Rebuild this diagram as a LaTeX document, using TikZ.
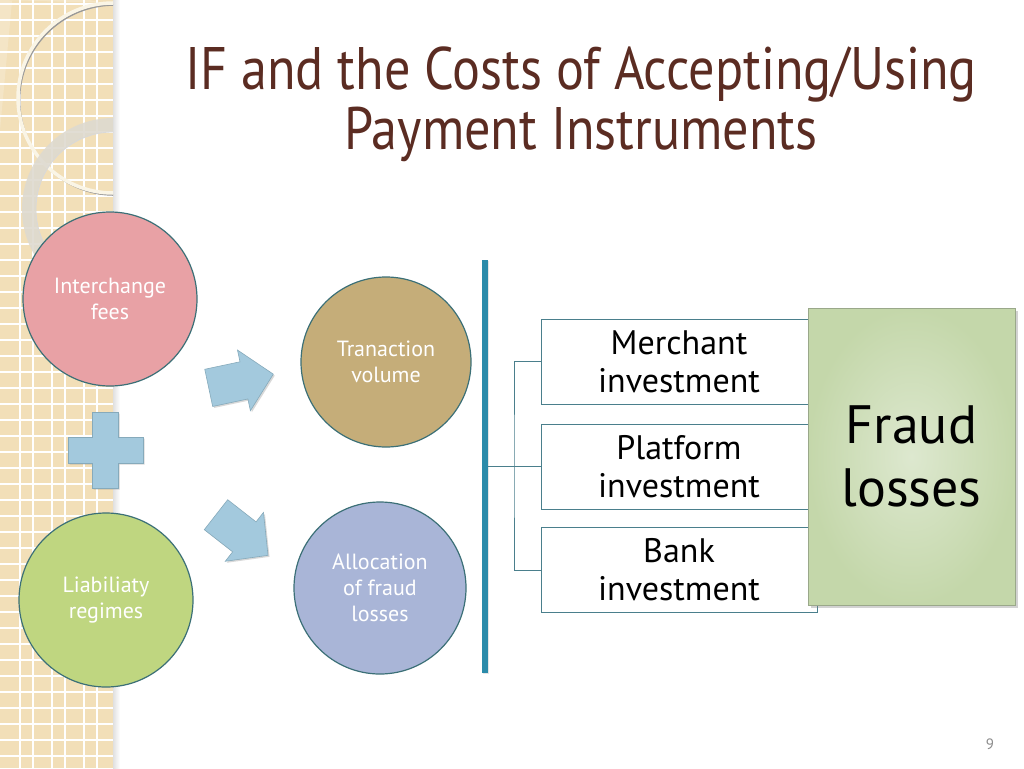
\documentclass[tikz,border=0pt]{standalone}
\usepackage{fontspec}
\setmainfont{PT Sans}
\newfontfamily\titlefont[FakeStretch=0.87]{PT Sans}
\usetikzlibrary{shadows,calc}
\definecolor{stripc}{HTML}{F2DFB8}
\definecolor{ringa}{HTML}{FAF5E6}
\definecolor{ringb}{HTML}{DEDAD0}
\definecolor{titlec}{HTML}{5B2C22}
\definecolor{edgec}{HTML}{3C7077}
\definecolor{pinkc}{HTML}{E8A1A5}
\definecolor{greenc}{HTML}{BFD680}
\definecolor{tanc}{HTML}{C5AD79}
\definecolor{lavc}{HTML}{A9B5D7}
\definecolor{bluec}{HTML}{A3C9DD}
\definecolor{blueedge}{HTML}{86AABB}
\definecolor{barc}{HTML}{2B8BAA}
\definecolor{treec}{HTML}{4A7F8C}
\definecolor{fraudin}{HTML}{DDE8CF}
\definecolor{fraudout}{HTML}{C4D7AA}
\definecolor{fraudedge}{HTML}{9AA88A}
\definecolor{pagec}{HTML}{8C8C8C}
\tikzset{
  bubble/.style={circle, draw=edgec, line width=1.2pt, minimum size=174pt, inner sep=0pt,
    text=white, align=center, font=\fontsize{22}{26}\selectfont},
  invbox/.style={rectangle, draw=treec, line width=1pt, fill=white, minimum width=276pt,
    minimum height=85pt, inner sep=0pt, align=center, font=\fontsize{34}{38}\selectfont},
  tree/.style={draw=treec, line width=1pt},
  titletext/.style={text=titlec, font=\titlefont\fontsize{60}{60}\selectfont, inner sep=0pt, anchor=base},
  blockshape/.style={fill=bluec, draw=blueedge, line width=0.6pt,
    drop shadow={opacity=0.3, shadow xshift=1.5pt, shadow yshift=-1.5pt}},
}
\begin{document}
\begin{tikzpicture}[x=1pt,y=-1pt]
\useasboundingbox (0,0) rectangle (1024,768);
\fill[white] (0,0) rectangle (1024,768);
% left decorative strip
\shade[left color=black!12, right color=white] (113,0) rectangle (120,768);
\begin{scope}
  \clip (0,0) rectangle (113,768);
  \fill[stripc] (0,0) rectangle (113,768);
  \foreach \k in {0,...,3} {
    \draw[white, line width=1.1pt] ({32*\k+20},0) -- ++(0,768);
    \draw[white, line width=1.1pt] ({32*\k+33},0) -- ++(0,768);
  }
  \foreach \k in {0,...,48} {
    \draw[white, line width=1.1pt] (0,{16*\k+4}) -- ++(113,0);
  }
  \fill[white, opacity=0.2] (113,3) arc[start angle=90, end angle=200, radius=95] -- (0,130) -- (0,0) -- cycle;
  \draw[black!40, line width=1.6pt] (114.5,100) circle (95);
  \draw[ringa, line width=3.5pt] (113,98) circle (95);
  \draw[ringb, opacity=0.9, line width=14pt] (113,209) circle (84);
  \draw[black!15, line width=0.8pt] (113,209) circle (77);
\end{scope}
% title
\node[titletext] (title1) at (581,89) {IF and the Costs of Accepting/Using};
\node[titletext] (title2) at (581,149) {Payment Instruments};
% circles
\node[bubble, fill=pinkc] (ifee) at (110,299) {Interchange\\fees};
\node[bubble, fill=greenc] (liab) at (106,600) {Liabiliaty\\regimes};
\node[bubble, fill=tanc, minimum size=170pt] (vol) at (386,362) {Tranaction\\volume};
\node[bubble, fill=lavc, minimum size=172pt] (alloc) at (380,588) {Allocation\\of fraud\\losses};
% plus sign
\path[blockshape] (92,412) -- (118,412) -- (118,437) -- (143,437) -- (143,463) -- (118,463)
  -- (118,488) -- (92,488) -- (92,463) -- (68,463) -- (68,437) -- (92,437) -- cycle;
% block arrows
\begin{scope}[shift={(241,381)}, rotate=12]
  \path[blockshape] (-33,-19) -- (3,-19) -- (3,-31) -- (33,0) -- (3,31) -- (3,19) -- (-33,19) -- cycle;
\end{scope}
\begin{scope}[shift={(242,535)}, rotate=-38]
  \path[blockshape] (-33,-19) -- (3,-19) -- (3,-31) -- (33,0) -- (3,31) -- (3,19) -- (-33,19) -- cycle;
\end{scope}
% vertical bar
\node[rectangle, fill=barc, minimum width=6pt, minimum height=413pt, inner sep=0pt,
  drop shadow={opacity=0.2, shadow xshift=1pt, shadow yshift=-1pt}] (bar) at (485,466.5) {};
% investment boxes
\node[invbox] (b1) at (679,361.5) {Merchant\\investment};
\node[invbox] (b2) at (679,466.5) {Platform\\investment};
\node[invbox] (b3) at (679,570) {Bank\\investment};
\coordinate (j) at (514,466.5);
\draw[tree] (bar.east |- b2.west) -- (b2.west);
\draw[tree] (b1.west) -| (j) |- (b3.west);
% fraud losses box
\node[rectangle, draw=fraudedge, line width=0.8pt, inner color=fraudin, outer color=fraudout,
  minimum width=207pt, minimum height=297pt, inner sep=0pt, align=center,
  font=\fontsize{54}{63}\selectfont,
  drop shadow={opacity=0.35, shadow xshift=3pt, shadow yshift=-3pt}] (fraud) at (911.5,456.5) {Fraud\\losses};
% page number
\node[text=pagec, font=\fontsize{15}{15}\selectfont, inner sep=0pt] (page) at (990,744) {9};
\end{tikzpicture}
\end{document}
